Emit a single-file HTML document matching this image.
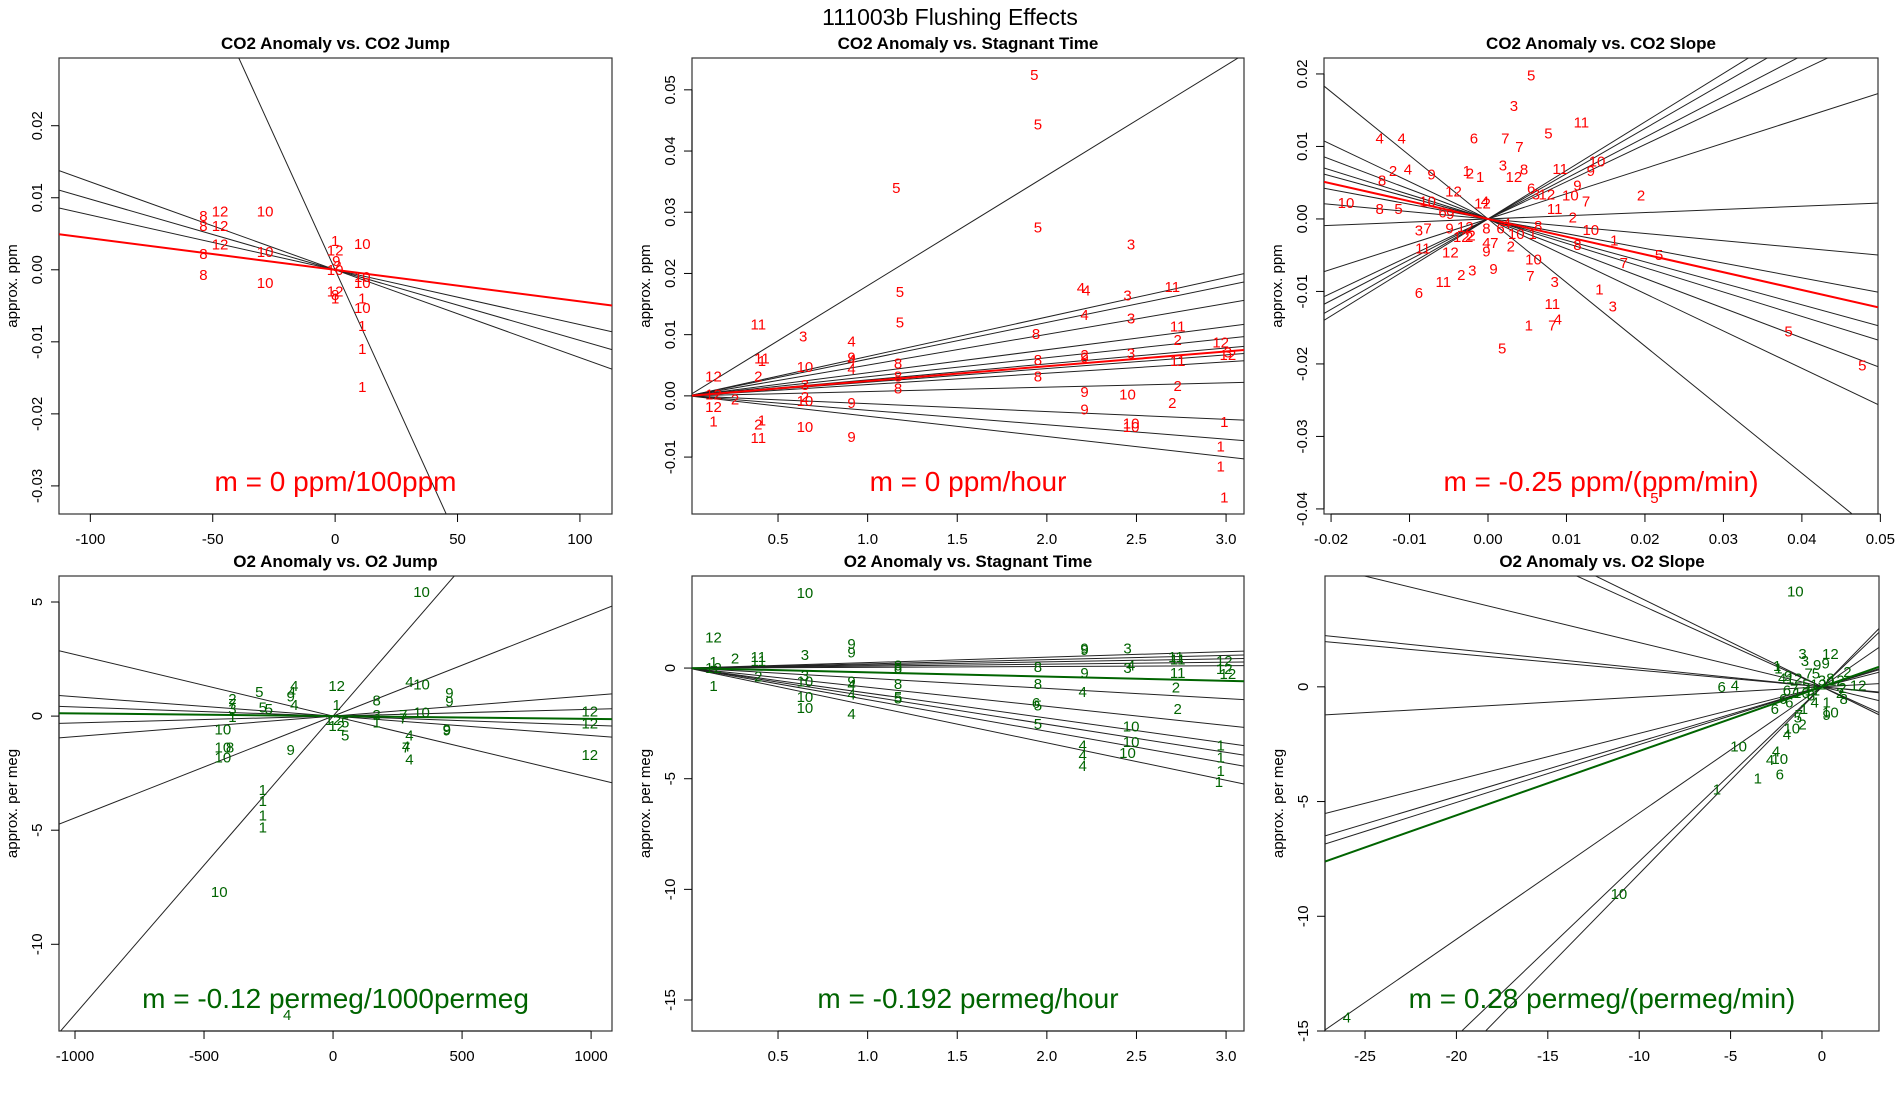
<!DOCTYPE html>
<html><head><meta charset="utf-8">
<style>
html,body{margin:0;padding:0;background:#fff;overflow:hidden;width:1900px;height:1100px;}
svg{display:block;position:absolute;left:0;top:0;font-family:"Liberation Sans",sans-serif;}
</style></head>
<body>
<svg id="chart" width="1900" height="1100" viewBox="0 0 1900 1100" xmlns="http://www.w3.org/2000/svg">
<text x="950" y="25" text-anchor="middle" font-size="23">111003b   Flushing Effects</text>
</svg>
<script>
// ---- Panel 1: CO2 Anomaly vs. CO2 Jump ----
const p1Labels=["8","12","10","8","12","8","12","10","8","10","1","12","10","9","2","10","10","10","1","10","1","1","1","12","8","1"];
const p1X=[-53.8,-47,-28.6,-53.8,-47,-53.8,-47,-28.6,-53.8,-28.6,0,0,11.1,0.5,1,0,11.1,11.1,11.1,11.1,11.1,11.1,11.1,0,0,0];
const p1Y=[0.0075,0.0081,0.0081,0.0061,0.0061,0.0022,0.0035,0.0025,-0.0007,-0.0018,0.004,0.0027,0.0036,0.0012,0.0005,0,-0.001,-0.0018,-0.004,-0.0053,-0.0078,-0.011,-0.0163,-0.003,-0.0035,-0.004];
const p1Slopes=[-0.000747,-0.000122,-0.000098,-0.000076];
const p1Fit=[-0.0000438];
// ---- Panel 2: CO2 Anomaly vs. Stagnant Time ----
const p2Labels=["5","5","5","5","3","5","4","4","3","11","11","3","5","8","4","3","11","2","12","3","12","4","11","1","10","8","4","9","8","2","9","3","11","12","2","4","8","8","8","2","9","10","2","12","3","2","10","9","2","9","12","1","1","2","10","10","10","1","11","9","1","1","1"];
const p2X=[1.93,1.95,1.16,1.95,2.47,1.18,2.19,2.22,2.45,2.70,0.39,0.64,1.18,1.94,2.21,2.47,2.73,2.73,2.97,3.01,3.01,0.91,0.41,0.41,0.65,1.17,0.91,0.91,1.95,2.21,2.21,2.47,2.73,0.14,0.39,0.91,1.17,1.95,1.17,2.73,2.21,2.45,0.26,0.14,0.65,0.65,0.65,0.91,2.70,2.21,0.14,0.14,0.41,0.39,2.47,2.47,0.65,2.99,0.39,0.91,2.97,2.97,2.99];
const p2Y=[0.0524,0.0443,0.034,0.0275,0.0247,0.017,0.0176,0.0172,0.0164,0.0178,0.0117,0.0097,0.012,0.0101,0.0132,0.0126,0.0113,0.0091,0.0087,0.0071,0.0067,0.0089,0.0061,0.0057,0.0047,0.0053,0.0059,0.0063,0.0059,0.0067,0.0063,0.0069,0.0057,0.0032,0.0032,0.0044,0.0032,0.0032,0.0012,0.0016,0.0006,0.0002,-0.0006,0.0002,0.0018,-0.0002,-0.0008,-0.0012,-0.0012,-0.0022,-0.0018,-0.0042,-0.004,-0.0047,-0.0045,-0.0051,-0.0051,-0.0043,-0.0069,-0.0067,-0.0083,-0.0115,-0.0166];
const p2Slopes=[0.018,0.00644,0.0060,0.00503,0.00377,0.00312,0.00261,0.00223,0.00185,0.00071,-0.00128,-0.00236,-0.00332];
const p2Fit=[0.00242];
// ---- Panel 3: CO2 Anomaly vs. CO2 Slope ----
const p3Labels=["5","3","11","5","6","7","7","4","4","10","11","9","3","8","12","1","2","1","9","2","4","8","12","9","6","3","12","10","7","2","10","8","5","10","6","9","12","4","11","2","3","7","9","12","2","8","6","4","8","1","10","12","2","4","7","10","2","9","8","1","11","12","5","7","10","3","2","9","7","11","3","6","1","3","11","4","7","1","5","5","5","5"];
const p3X=[0.0055,0.0033,0.0119,0.0077,-0.0018,0.0022,0.004,-0.0138,-0.011,0.0139,0.0092,0.0131,0.0019,0.0046,0.0033,-0.0027,-0.0023,-0.001,-0.0072,-0.0121,-0.0102,-0.0135,-0.0044,0.0114,0.0055,0.0061,0.0075,0.0105,0.0125,0.0195,-0.0181,-0.0138,-0.0114,-0.0077,-0.0058,-0.0048,-0.0007,-0.0004,0.0085,0.0108,-0.0088,-0.0077,-0.0049,-0.0029,-0.0021,-0.0002,0.0016,0.0024,0.0064,0.0057,0.0131,-0.0034,-0.0024,-0.0002,0.0008,0.0036,0.0029,-0.0002,0.0114,0.0161,-0.0083,-0.0048,0.0218,0.0173,0.0058,-0.002,-0.0034,0.0007,0.0054,-0.0057,0.0085,-0.0088,0.0142,0.0159,0.0082,0.0089,0.0082,0.0052,0.0018,0.0383,0.0477,0.0212];
const p3Y=[0.0198,0.0156,0.0133,0.0118,0.0111,0.0111,0.0099,0.0111,0.0111,0.0079,0.0069,0.0066,0.0074,0.0068,0.0058,0.0066,0.0063,0.0058,0.0061,0.0066,0.0068,0.0053,0.0038,0.0046,0.0042,0.0034,0.0034,0.0032,0.0024,0.0032,0.0022,0.0014,0.0014,0.0024,0.0009,0.0007,0.0021,0.0024,0.0014,0.0002,-0.0016,-0.0013,-0.0013,-0.0011,-0.0023,-0.0013,-0.0013,-0.0006,-0.001,-0.0021,-0.0015,-0.0025,-0.0025,-0.0033,-0.0033,-0.0021,-0.0038,-0.0045,-0.0036,-0.003,-0.0041,-0.0046,-0.005,-0.0061,-0.0056,-0.0071,-0.0077,-0.0069,-0.0079,-0.0087,-0.0087,-0.0102,-0.0097,-0.0121,-0.0117,-0.0139,-0.0147,-0.0147,-0.0179,-0.0155,-0.0202,-0.0385];
const p3Slopes=[0.669,0.624,0.563,0.513,0.348,0.044,-0.10,-0.203,-0.296,-0.336,-0.41,-0.515,-0.877];
const p3Fit=[-0.245];
// ---- Panel 4: O2 Anomaly vs. O2 Jump ----
const p4Labels=["10","12","5","4","4","9","2","7","5","5","4","3","1","8","4","10","9","3","10","9","1","12","12","5","5","1","7","7","12","12","9","9","10","4","4","7","4","10","8","10","9","12","1","1","1","1","10","4"];
const p4X=[343,14,-286,-150,-160,-164,-390,-390,-272,-249,-150,-390,14,169,296,343,451,169,343,451,-390,0,14,47,47,169,272,272,995,995,441,441,-427,296,283,283,296,-427,-399,-427,-164,995,-272,-272,-272,-272,-441,-178];
const p4Y=[5.43,1.33,1.06,1.33,1.06,0.85,0.74,0.53,0.37,0.32,0.48,0.32,0.48,0.69,1.49,1.38,1.01,0.05,0.16,0.64,-0.05,-0.16,-0.43,-0.27,-0.85,-0.27,0.05,-0.11,0.21,-0.32,-0.59,-0.64,-0.59,-0.85,-1.33,-1.38,-1.91,-1.38,-1.38,-1.81,-1.49,-1.70,-3.24,-3.72,-4.36,-4.89,-7.71,-13.1];
const p4Slopes=[0.01307,-0.0027,-0.00085,-0.0004,0.0003,0.0009,0.00446];
const p4Fit=[-0.00012];
// ---- Panel 5: O2 Anomaly vs. Stagnant Time ----
const p5Labels=["10","12","9","9","3","9","9","3","11","11","12","2","1","11","11","12","3","4","8","8","8","9","12","12","11","2","1","3","10","9","4","8","8","2","2","4","10","10","4","4","5","5","6","5","5","10","10","10","4","4","4","1","1","1","1"];
const p5X=[0.65,0.14,0.91,0.91,0.65,2.21,2.21,2.45,2.72,2.73,2.99,0.26,0.14,0.39,0.39,0.14,2.45,2.47,1.17,1.17,1.95,2.21,2.99,3.01,2.73,0.39,0.14,0.65,0.65,0.91,0.91,1.17,1.95,2.72,2.73,2.20,0.65,0.65,0.91,0.91,1.17,1.17,1.94,1.95,1.95,2.47,2.47,2.45,2.20,2.20,2.20,2.97,2.97,2.97,2.96];
const p5Y=[3.39,1.37,1.09,0.71,0.6,0.88,0.82,0.88,0.49,0.38,0.33,0.44,0.27,0.49,0.33,0,0,0.11,0.11,0,0.05,-0.22,-0.05,-0.27,-0.22,-0.38,-0.82,-0.33,-0.6,-0.6,-0.77,-0.71,-0.71,-0.88,-1.86,-1.09,-1.31,-1.81,-1.2,-2.08,-1.31,-1.37,-1.59,-1.7,-2.52,-2.63,-3.34,-3.83,-3.5,-3.94,-4.43,-3.5,-4.05,-4.65,-5.14];
const p5Slopes=[0.247,0.19,0.14,0.088,0.035,-0.46,-0.865,-1.13,-1.27,-1.43,-1.69];
const p5Fit=[-0.192];
// ---- Panel 6: O2 Anomaly vs. O2 Slope ----
const p6Labels=["10","4","10","1","1","6","4","10","4","10","6","4","3","3","1","1","9","12","12","9","9","2","7","2","12","7","6","6","8","1","5","2","10","4","10","9","1","12","11","3","5","8","4","2","10","7","6","6","4","8","5","12"];
const p6X=[-1.46,-26.0,-11.11,-5.75,-3.51,-2.31,-2.84,-2.31,-2.51,-4.56,-5.49,-4.76,-1.06,-0.93,-2.45,-2.38,-1.85,-1.52,0.46,-0.26,0.2,1.39,-0.73,1.12,1.98,-1.52,-2.12,-1.79,-0.6,-0.99,-1.32,-1.06,-1.65,-1.92,0.46,0.26,0.26,-0.2,-0.53,0,-0.86,1.19,-0.4,0.99,-1.12,-1.26,-2.58,-1.92,-2.18,0.46,-0.33,0.79];
const p6Y=[4.15,-14.41,-9.04,-4.47,-3.99,-3.83,-3.19,-3.14,-2.82,-2.61,0,0.05,1.44,1.12,0.9,0.8,0.48,0.37,1.44,0.96,1.01,0.64,0.59,-0.05,0.05,-0.11,-0.53,-0.69,-0.37,-0.96,-1.33,-1.65,-1.81,-2.07,-1.12,-1.22,-0.69,0.11,-0.16,0.27,0.11,-0.53,-0.69,-0.27,-0.27,-1.22,-0.96,-0.16,0.37,0.37,0.59,0.27];
const p6Slopes=[-0.193,-0.36,-0.39,-0.082,-0.0724,0.045,0.203,0.239,0.252,0.55,0.761,0.815];
const p6Fit=[0.28];

const NS="http://www.w3.org/2000/svg";
const svg=document.getElementById('chart');
function mk(tag,attrs,parent){const e=document.createElementNS(NS,tag);for(const k in attrs)e.setAttribute(k,attrs[k]);(parent||svg).appendChild(e);return e;}

function panel(cfg,labels,xs,ys,slopes,fit){
  const L=cfg.box[0],R=cfg.box[1],T=cfg.box[2],B=cfg.box[3];
  const sx=v=>L+(v-cfg.xd[0])/(cfg.xd[1]-cfg.xd[0])*(R-L);
  const sy=v=>B-(v-cfg.yd[0])/(cfg.yd[1]-cfg.yd[0])*(B-T);
  const g=mk('g',{});
  
  
  const cp=mk('clipPath',{id:'clip-'+cfg.name},g);
  mk('rect',{x:L,y:T,width:R-L,height:B-T},cp);
  const t=mk('text',{x:(L+R)/2,y:T-9,'text-anchor':'middle','font-size':17,'font-weight':'bold'},g);
  t.textContent=cfg.title;
  
  
  const box=mk('rect',{x:L,y:T,width:R-L,height:B-T,fill:'none',stroke:'#333','stroke-width':1.2},g);
  
  
  const xa=mk('g',{},g);
  
  
  mk('line',{x1:sx(cfg.xt[0]),x2:sx(cfg.xt[cfg.xt.length-1]),y1:B,y2:B,stroke:'#000'},xa);
  cfg.xt.forEach((v,i)=>{
    mk('line',{x1:sx(v),x2:sx(v),y1:B,y2:B+8,stroke:'#000'},xa);
    const tx=mk('text',{x:sx(v),y:B+30,'text-anchor':'middle','font-size':15},xa);
    tx.textContent=cfg.xtl[i];
    
    
  });
  const ya=mk('g',{},g);
  
  
  mk('line',{x1:L,x2:L,y1:sy(cfg.yt[0]),y2:sy(cfg.yt[cfg.yt.length-1]),stroke:'#000'},ya);
  cfg.yt.forEach((v,i)=>{
    mk('line',{x1:L-8,x2:L,y1:sy(v),y2:sy(v),stroke:'#000'},ya);
    const tx=mk('text',{x:L-17,y:sy(v),'text-anchor':'middle','font-size':15,transform:`rotate(-90 ${L-17} ${sy(v)})`},ya);
    tx.textContent=cfg.ytl[i];
    
    
  });
  const yl=mk('text',{x:L-42,y:(T+B)/2,'text-anchor':'middle','font-size':15,transform:`rotate(-90 ${L-42} ${(T+B)/2})`},g);
  yl.textContent=cfg.ylab;
  
  
  const lg=mk('g',{'clip-path':`url(#clip-${cfg.name})`},g);
  slopes.forEach(m=>{
    const ln=mk('line',{x1:sx(cfg.xd[0]),y1:sy(m*cfg.xd[0]),x2:sx(cfg.xd[1]),y2:sy(m*cfg.xd[1]),stroke:'#222','stroke-width':1},lg);
    
    
  });
  fit.forEach(m=>{
    const ln=mk('line',{x1:sx(cfg.xd[0]),y1:sy(m*cfg.xd[0]),x2:sx(cfg.xd[1]),y2:sy(m*cfg.xd[1]),stroke:cfg.color,'stroke-width':2},lg);
    
    
  });
  const pg=mk('g',{'clip-path':`url(#clip-${cfg.name})`,fill:cfg.color,'font-size':15,'text-anchor':'middle'},g);
  labels.forEach((lab,i)=>{
    const tx=mk('text',{x:sx(xs[i]),y:sy(ys[i])+5},pg);
    tx.textContent=lab;
    
    
  });
  const an=mk('text',{x:(L+R)/2,y:B-23,'text-anchor':'middle','font-size':28,fill:cfg.color},g);
  an.textContent=cfg.note;
  
  
}
const RED='#ff0000',GRN='#006400';
panel({name:'co2-vs-jump',box:[59,612,58,514],xd:[-112.8,113.1],yd:[-0.0339,0.0294],xt:[-100,-50,0,50,100],xtl:['-100','-50','0','50','100'],yt:[-0.03,-0.02,-0.01,0,0.01,0.02],ytl:['-0.03','-0.02','-0.01','0.00','0.01','0.02'],title:'CO2 Anomaly vs. CO2 Jump',ylab:'approx. ppm',color:RED,note:'m = 0 ppm/100ppm'},p1Labels,p1X,p1Y,p1Slopes,p1Fit);
panel({name:'co2-vs-stagnant-time',box:[692,1244,58,514],xd:[0.02,3.10],yd:[-0.0193,0.0552],xt:[0.5,1,1.5,2,2.5,3],xtl:['0.5','1.0','1.5','2.0','2.5','3.0'],yt:[-0.01,0,0.01,0.02,0.03,0.04,0.05],ytl:['-0.01','0.00','0.01','0.02','0.03','0.04','0.05'],title:'CO2 Anomaly vs. Stagnant Time',ylab:'approx. ppm',color:RED,note:'m = 0 ppm/hour'},p2Labels,p2X,p2Y,p2Slopes,p2Fit);
panel({name:'co2-vs-slope',box:[1324,1878,58,514],xd:[-0.0209,0.0497],yd:[-0.0407,0.0222],xt:[-0.02,-0.01,0,0.01,0.02,0.03,0.04,0.05],xtl:['-0.02','-0.01','0.00','0.01','0.02','0.03','0.04','0.05'],yt:[-0.04,-0.03,-0.02,-0.01,0,0.01,0.02],ytl:['-0.04','-0.03','-0.02','-0.01','0.00','0.01','0.02'],title:'CO2 Anomaly vs. CO2 Slope',ylab:'approx. ppm',color:RED,note:'m = -0.25 ppm/(ppm/min)'},p3Labels,p3X,p3Y,p3Slopes,p3Fit);
panel({name:'o2-vs-jump',box:[59,612,576,1031],xd:[-1062,1081],yd:[-13.8,6.14],xt:[-1000,-500,0,500,1000],xtl:['-1000','-500','0','500','1000'],yt:[-10,-5,0,5],ytl:['-10','-5','0','5'],title:'O2 Anomaly vs. O2 Jump',ylab:'approx. per meg',color:GRN,note:'m = -0.12 permeg/1000permeg'},p4Labels,p4X,p4Y,p4Slopes,p4Fit);
panel({name:'o2-vs-stagnant-time',box:[692,1244,576,1031],xd:[0.02,3.10],yd:[-16.4,4.16],xt:[0.5,1,1.5,2,2.5,3],xtl:['0.5','1.0','1.5','2.0','2.5','3.0'],yt:[-15,-10,-5,0],ytl:['-15','-10','-5','0'],title:'O2 Anomaly vs. Stagnant Time',ylab:'approx. per meg',color:GRN,note:'m = -0.192 permeg/hour'},p5Labels,p5X,p5Y,p5Slopes,p5Fit);
panel({name:'o2-vs-slope',box:[1325,1879,576,1031],xd:[-27.19,3.12],yd:[-15.0,4.83],xt:[-25,-20,-15,-10,-5,0],xtl:['-25','-20','-15','-10','-5','0'],yt:[-15,-10,-5,0],ytl:['-15','-10','-5','0'],title:'O2 Anomaly vs. O2 Slope',ylab:'approx. per meg',color:GRN,note:'m = 0.28 permeg/(permeg/min)'},p6Labels,p6X,p6Y,p6Slopes,p6Fit);
</script>
</body></html>
